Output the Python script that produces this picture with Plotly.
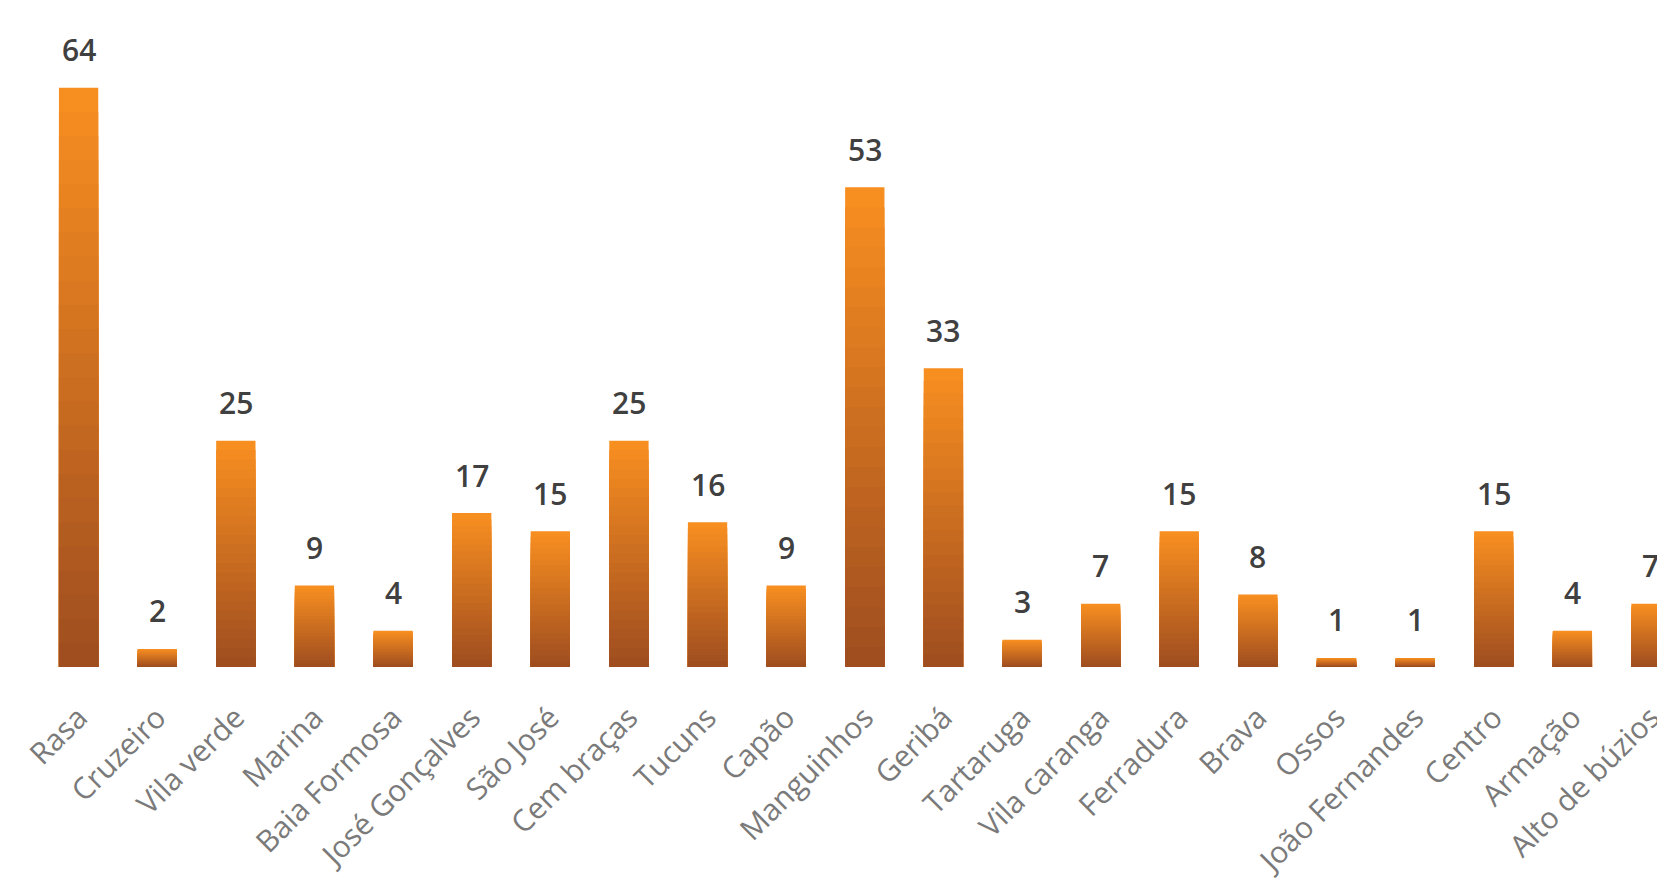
import plotly.graph_objects as go

categories = ["Rasa", "Cruzeiro", "Vila verde", "Marina", "Baia Formosa", "José Gonçalves",
              "São José", "Cem braças", "Tucuns", "Capão", "Manguinhos", "Geribá",
              "Tartaruga", "Vila caranga", "Ferradura", "Brava", "Ossos", "João Fernandes",
              "Centro", "Armação", "Alto de búzios"]
values = [64, 2, 25, 9, 4, 17, 15, 25, 16, 9, 53, 33, 3, 7, 15, 8, 1, 1, 15, 4, 7]

top_rgb = (247, 142, 32)
bottom_rgb = (160, 78, 32)
n_layers = 24

fig = go.Figure()
for k in range(n_layers):
    frac = 1 - k / n_layers
    t = k / (n_layers - 1)
    col = tuple(round(top_rgb[i] + (bottom_rgb[i] - top_rgb[i]) * t) for i in range(3))
    fig.add_trace(go.Bar(
        x=categories,
        y=[v * frac for v in values],
        marker=dict(color="rgb(%d,%d,%d)" % col, line=dict(width=0)),
        width=0.5,
        hoverinfo="skip",
        showlegend=False,
    ))

for c, v in zip(categories, values):
    fig.add_annotation(x=c, y=v, text=str(v), showarrow=False, yanchor="middle",
                       yshift=38, font=dict(family="Open Sans", size=30, color="#404040",
                                            weight=600))

fig.update_layout(
    barmode="overlay",
    width=1665, height=880,
    margin=dict(l=0, r=0, t=0, b=221),
    paper_bgcolor="white", plot_bgcolor="white",
    xaxis=dict(range=[-0.898, 20.28], tickangle=-45, showgrid=False, showline=False,
               zeroline=False, ticks="", ticklabelstandoff=26, automargin=False,
               tickfont=dict(family="Open Sans", size=30, color="#7a7a7a")),
    yaxis=dict(range=[0, 72.8], visible=False, showgrid=False, zeroline=False,
               automargin=False),
)

fig.write_html("out.html")
